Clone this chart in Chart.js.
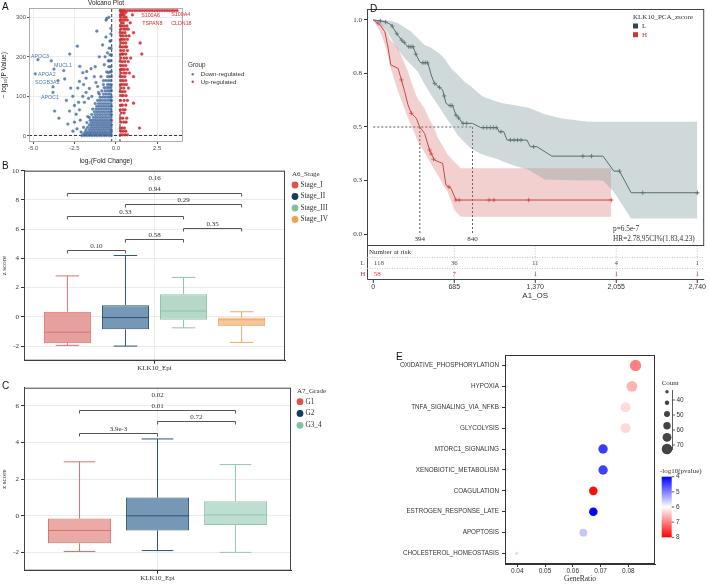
<!DOCTYPE html>
<html><head><meta charset="utf-8">
<script src="https://cdn.jsdelivr.net/npm/chart.js@4.4.1/dist/chart.umd.min.js"></script>
<style>
html,body{margin:0;padding:0;background:#fff}
#wrap{position:relative;width:709px;height:584px;overflow:hidden;background:#fff}
canvas{position:absolute}
.tag{position:absolute;font:10px "Liberation Sans",Arial,sans-serif;color:#111}
</style></head><body>
<div id="wrap">
<canvas id="cA" width="260" height="165" style="left:0;top:0"></canvas>
<canvas id="cB" width="340" height="215" style="left:0;top:160px"></canvas>
<canvas id="cC" width="340" height="209" style="left:0;top:375px"></canvas>
<canvas id="cD" width="359" height="305" style="left:350px;top:0"></canvas>
<canvas id="cE" width="349" height="244" style="left:360px;top:340px"></canvas>
<div class="tag" style="left:2px;top:1px">A</div>
<div class="tag" style="left:2px;top:160px">B</div>
<div class="tag" style="left:2px;top:380px">C</div>
<div class="tag" style="left:370px;top:3px">D</div>
<div class="tag" style="left:396px;top:351px">E</div>
</div>
<script>
// ================= DATA =================
// Panel A: volcano
const volcanoTitle = 'Volcano Plot';
const groupNames = ['Down-regulated', 'Up-regulated'];
const fcCut = [-0.25, 0.25];
const pCut = 1.3;
const downOutliers = [[-4.71,193],[-4.87,157],[-3.9,190],[-3.74,169],[-3.15,165],[-3.09,144],[-3.5,140],[-3.8,124],[-3.8,110],[-2.73,121],[-2.99,90],[-3.7,63],[-3.44,45],[-2.33,227],[-2.79,207],[-2.18,176],[-2.0,160],[-1.76,163],[-1.8,146],[-1.5,170],[-2.2,138],[-2.3,121],[-2.0,100],[-2.5,77],[-2.8,63],[-2.2,66],[-1.7,49],[-1.15,265],[-0.59,293],[-0.55,297],[-0.42,300],[-2.6,100],[-2.4,55],[-2.15,40],[-1.9,85],[-1.6,120],[-1.3,150],[-1.2,135],[-1.45,100],[-1.65,95],[-1.0,200],[-0.8,230],[-0.7,180],[-0.9,150],[-1.1,125],[-0.6,250],[-0.5,210],[-0.45,160],[-0.35,240],[-0.3,272],[-0.4,190],[-1.8,110],[-2.5,35],[-2.9,30],[-1.25,175],[-1.05,110],[-0.75,140],[-0.65,200],[-2.35,18],[-2.6,12],[-2.25,85],[-1.95,130]];
const downRows = [
 [1,[-2.05,-1.9,-1.75,-1.6,-1.45,-1.3,-1.15,-1.0,-0.85,-0.7,-0.55,-0.4,-0.28]],
 [5,[-1.95,-1.8,-1.65,-1.5,-1.35,-1.2,-1.05,-0.9,-0.75,-0.6,-0.45,-0.3]],
 [10,[-2.1,-1.85,-1.7,-1.55,-1.4,-1.25,-1.1,-0.95,-0.8,-0.65,-0.5,-0.35,-0.27]],
 [16,[-1.8,-1.6,-1.45,-1.3,-1.15,-1.0,-0.85,-0.7,-0.55,-0.4,-0.28]],
 [22,[-1.95,-1.7,-1.5,-1.35,-1.2,-1.05,-0.9,-0.75,-0.6,-0.45,-0.3]],
 [28,[-1.6,-1.45,-1.3,-1.15,-1.0,-0.85,-0.7,-0.55,-0.4,-0.27]],
 [34,[-1.75,-1.5,-1.35,-1.2,-1.05,-0.9,-0.75,-0.6,-0.45,-0.3]],
 [40,[-1.55,-1.4,-1.25,-1.1,-0.95,-0.8,-0.65,-0.5,-0.35,-0.27]],
 [47,[-1.6,-1.35,-1.2,-1.05,-0.9,-0.75,-0.6,-0.45,-0.3]],
 [54,[-1.45,-1.25,-1.1,-0.95,-0.8,-0.65,-0.5,-0.35,-0.27]],
 [61,[-1.3,-1.15,-1.0,-0.85,-0.7,-0.55,-0.4,-0.28]],
 [68,[-1.4,-1.2,-1.05,-0.9,-0.75,-0.6,-0.45,-0.3]],
 [75,[-1.15,-1.0,-0.85,-0.7,-0.55,-0.4,-0.27]],
 [82,[-1.25,-1.05,-0.9,-0.75,-0.6,-0.45,-0.3]],
 [90,[-1.1,-0.95,-0.8,-0.65,-0.5,-0.35,-0.27]],
 [98,[-0.95,-0.8,-0.65,-0.5,-0.38,-0.28]],
 [106,[-1.0,-0.75,-0.6,-0.45,-0.32]],
 [114,[-0.85,-0.65,-0.5,-0.38,-0.27]],
 [122,[-0.7,-0.55,-0.42,-0.3]],
 [130,[-0.75,-0.5,-0.38,-0.28]],
 [140,[-0.6,-0.45,-0.32]],
 [150,[-0.5,-0.38,-0.27]],
 [162,[-0.55,-0.35,-0.28]],
 [175,[-0.42,-0.3]],
 [190,[-0.45,-0.3]],
 [205,[-0.35,-0.27]],
 [222,[-0.4,-0.29]],
 [240,[-0.33]],
 [258,[-0.3]]
];
const upRows = [
 [3,[0.28,0.4,0.55,0.7]],[12,[0.3,0.45,0.6]],[20,[0.27,0.38,0.52,1.43]],[35,[0.3,0.48,0.62]],
 [45,[0.28,0.42,0.66]],[58,[0.33,0.5]],[66,[0.27,0.44,0.56]],[78,[0.3,0.4,0.6]],[83,[1.07]],
 [90,[0.28,0.5,0.7]],[102,[0.35,0.45,0.62]],[112,[0.27,0.4,0.55]],[121,[0.3,0.48,0.76]],
 [130,[0.28,0.38,0.52,0.65]],[140,[0.33,0.45,0.6]],[150,[0.27,0.4,0.55,1.07]],[159,[0.3,0.48,0.62,0.82]],
 [168,[0.28,0.38,0.52,0.7]],[178,[0.32,0.45,0.6]],[188,[0.27,0.4,0.55,0.75]],[197,[0.3,0.5,0.65,0.9]],
 [207,[0.28,0.38,0.45,0.6,1.57]],[216,[0.33,0.48,0.7]],[225,[0.27,0.4,0.55,0.65]],[235,[0.3,0.45,0.6,1.47]],
 [244,[0.28,0.38,0.52,0.7]],[253,[0.32,0.45,0.62,0.8]],[261,[0.27,0.4,0.55,1.07]],[270,[0.3,0.48,0.6,0.75]],
 [278,[0.28,0.38,0.52,0.67]],[286,[0.33,0.45,0.87]],[293,[0.27,0.4,0.55,0.7]],[300,[0.3,0.48,0.62]],
 [306,[0.28,0.38,0.5,1.0]],[312,[0.32,0.45,0.6]],
 [317,[0.27,0.35,0.45,0.55,0.7,0.85,1.0,1.15,1.3,1.45,1.6,1.75,1.9,2.05,2.2,2.35,2.5,2.65,2.8,2.95,3.1,3.25,3.4,3.55,3.7]]
];
const geneLabels = [
 ['APOC3',-5.13,202,0],['MUCL1',-3.74,179,0],['APOA2',-4.71,155,0],['SCGB3A1',-4.89,136,0],['APOC1',-4.53,96,0],
 ['S100A6',1.53,305,1],['S100A4',3.35,307,1],['TSPAN8',1.59,284,1],['CLDN18',3.35,284,1]
];

// Panel B: stage boxplots
const xCategory = ['KLK10_Epi'];
const stageNames = ['Stage_I','Stage_II','Stage_III','Stage_IV'];
const stageMin = [-1.95,-2.0,-0.75,-1.75];
const stageQ1 = [-1.8,-0.85,-0.2,-0.65];
const stageMedian = [-1.05,-0.05,0.4,-0.2];
const stageQ3 = [0.35,0.8,1.55,-0.05];
const stageMax = [2.8,4.2,2.7,0.35];
const stagePairs = [[0,1],[1,2],[2,3],[0,2],[1,3],[0,3]];
const stagePLevels = [4.55,5.35,6.1,6.9,7.75,8.5];
const stagePLabels = ['0.10','0.58','0.35','0.33','0.29','0.94'];
const stageOverall = ['0.16', 9.25];
const stageLegendTitle = 'A6_Stage';
const stageYTicks = [-2,0,2,4,6,8,10];

// Panel C: grade boxplots
const gradeNames = ['G1','G2','G3_4'];
const gradeMin = [-1.95,-1.9,-2.0];
const gradeQ1 = [-1.5,-0.8,-0.5];
const gradeMedian = [-0.8,0.0,0.05];
const gradeQ3 = [-0.15,1.0,0.8];
const gradeMax = [2.95,4.2,2.8];
const gradePairs = [[0,1],[1,2],[0,2]];
const gradePLevels = [4.55,5.2,5.8];
const gradePLabels = ['3.9e-3','0.72','0.01'];
const gradeOverall = ['0.02', 6.35];
const gradeLegendTitle = 'A7_Grade';
const gradeYTicks = [-2,0,2,4,6];

// Panel D: Kaplan-Meier
const kmGroups = ['L','H'];
const kmLegendTitle = 'KLK10_PCA_zscore';
const lDays = [0,98,154,196,238,280,294,336,364,392,406,462,490,517,587,615,643,671,699,727,755,839,909,1048,1063,1104,1132,1300,1328,1384,1510,1943,2035,2083,2181,2740];
const lSurv = [1.0,0.992,0.977,0.938,0.907,0.883,0.875,0.875,0.836,0.805,0.80,0.80,0.743,0.704,0.673,0.611,0.60,0.60,0.556,0.540,0.517,0.517,0.497,0.497,0.478,0.478,0.439,0.439,0.408,0.408,0.364,0.364,0.294,0.294,0.193,0.193];
const hDays = [0,56,98,126,148,210,238,266,294,322,364,392,434,476,517,587,615,658,699,2013];
const hSurv = [1.0,0.977,0.945,0.868,0.79,0.774,0.72,0.665,0.603,0.564,0.541,0.501,0.47,0.393,0.346,0.33,0.229,0.213,0.159,0.159];
const lBandDays = [0,98,154,182,210,266,322,377,434,490,574,601,658,713,769,825,909,937,1048,1104,1188,1314,1450,1594,1818,1943,2030,2090,2181,2740];
const lBandUpper = [1.0,0.998,0.995,0.99,0.985,0.965,0.945,0.915,0.883,0.87,0.836,0.82,0.774,0.745,0.712,0.69,0.65,0.64,0.618,0.61,0.603,0.59,0.56,0.54,0.525,0.525,0.525,0.525,0.525,0.525];
const lBandLower = [1.0,0.961,0.91,0.883,0.86,0.821,0.79,0.758,0.70,0.65,0.58,0.556,0.51,0.463,0.43,0.40,0.375,0.369,0.35,0.338,0.32,0.30,0.255,0.252,0.25,0.25,0.2,0.15,0.073,0.073];
const hBandDays = [0,42,70,98,126,140,210,294,350,378,434,462,517,545,601,629,685,699,741,2013];
const hBandUpper = [1.0,0.995,0.99,0.96,0.93,0.91,0.868,0.758,0.665,0.63,0.587,0.55,0.494,0.45,0.40,0.37,0.338,0.33,0.307,0.307];
const hBandLower = [1.0,0.961,0.93,0.883,0.83,0.79,0.665,0.541,0.47,0.431,0.38,0.354,0.30,0.276,0.22,0.198,0.115,0.104,0.081,0.081];
const lCensor = [[60,0.995],[104,0.99],[160,0.971],[200,0.935],[240,0.906],[262,0.895],[300,0.875],[318,0.875],[336,0.875],[360,0.84],[420,0.80],[440,0.80],[458,0.80],[520,0.703],[560,0.685],[600,0.645],[650,0.60],[666,0.60],[700,0.555],[722,0.542],[760,0.517],[790,0.517],[930,0.497],[960,0.497],[990,0.497],[1015,0.497],[1040,0.497],[1080,0.478],[1160,0.439],[1190,0.439],[1220,0.439],[1250,0.439],[1356,0.408],[1773,0.364],[1846,0.364],[2083,0.294],[2279,0.193],[2740,0.193]];
const hCensor = [[40,0.985],[238,0.72],[322,0.564],[476,0.393],[490,0.375],[510,0.35],[640,0.22],[699,0.159],[727,0.159],[979,0.159],[1020,0.159],[1314,0.159],[2013,0.159]];
const medianDays = [394, 840];
const riskTimes = [0,685,1370,2055,2740];
const riskTickLabels = ['0','685','1,370','2,055','2,740'];
const riskL = [118,36,11,4,1];
const riskH = [58,7,1,1,1];
const kmP = 'p=6.5e-7';
const kmHR = 'HR=2.78,95CI%(1.83,4.23)';
const kmXTitle = 'A1_OS';
const kmRiskTitle = 'Number at risk';

// Panel E: enrichment dot plot
const pathways = ['OXIDATIVE_PHOSPHORYLATION','HYPOXIA','TNFA_SIGNALING_VIA_NFKB','GLYCOLYSIS','MTORC1_SIGNALING','XENOBIOTIC_METABOLISM','COAGULATION','ESTROGEN_RESPONSE_LATE','APOPTOSIS','CHOLESTEROL_HOMEOSTASIS'];
const geneRatio = [0.0826,0.0813,0.0790,0.0790,0.0709,0.0709,0.0674,0.0674,0.0638,0.0398];
const geneCount = [74,72,68,68,65,65,61,61,57,35];
const negLogP = [7.0,6.6,6.3,6.3,4.45,4.5,7.9,4.05,5.55,6.3];
const countLegendCircles = [35,40,48,55,62,71];
const countLegendLabels = [40,50,60,70];
const pLegendTicks = [4,5,6,7,8];

// ================= STYLE / HELPERS =================
const SANS = '"Liberation Sans", Arial, sans-serif';
const SERIF = '"Liberation Serif", "Times New Roman", serif';
Chart.defaults.animation = false;
Chart.defaults.responsive = false;
Chart.defaults.maintainAspectRatio = false;
Chart.defaults.devicePixelRatio = 1;
Chart.defaults.plugins.legend.display = false;
Chart.defaults.plugins.tooltip.enabled = false;
Chart.defaults.font.family = SANS;
Chart.defaults.color = '#333';

function txt(c, s, x, y, font, color, align, base) {
  c.save(); c.font = font; c.fillStyle = color; c.textAlign = align || 'left';
  c.textBaseline = base || 'middle'; c.fillText(s, x, y); c.restore();
}
function seg(c, x1, y1, x2, y2, color, w, dash) {
  c.save(); c.strokeStyle = color; c.lineWidth = w || 1; c.setLineDash(dash || []);
  c.beginPath(); c.moveTo(x1, y1); c.lineTo(x2, y2); c.stroke(); c.restore();
}
const zip = (xs, ys) => xs.map((x, i) => ({x, y: ys[i]}));

// ================= PANEL A =================
const downPts = downOutliers.map(([x, y]) => ({x, y})).concat(downRows.flatMap(([y, xs]) => xs.map(x => ({x, y}))));
const upPts = upRows.flatMap(([y, xs]) => xs.map(x => ({x, y})));
const AX = [-5.25, 4.06], AY = [-15.2, 323.5];
const dashA = {type: 'line', borderColor: '#222', borderWidth: 0.9, borderDash: [3, 2], pointRadius: 0, fill: false};
new Chart(document.getElementById('cA'), {
  type: 'scatter',
  data: {datasets: [
    {data: downPts, pointRadius: 1.4, backgroundColor: 'rgba(52,92,145,0.75)', borderColor: 'rgba(95,135,185,0.9)', borderWidth: 0.4},
    {data: upPts, pointRadius: 1.4, backgroundColor: 'rgba(205,28,35,0.85)', borderColor: 'rgba(215,60,60,0.9)', borderWidth: 0.4},
    Object.assign({data: [{x: fcCut[0], y: AY[0]}, {x: fcCut[0], y: AY[1]}]}, dashA),
    Object.assign({data: [{x: fcCut[1], y: AY[0]}, {x: fcCut[1], y: AY[1]}]}, dashA),
    Object.assign({data: [{x: AX[0], y: pCut}, {x: AX[1], y: pCut}]}, dashA)
  ]},
  options: {
    layout: {padding: {left: 0, top: 8, right: 77, bottom: 0}},
    scales: {
      x: {type: 'linear', min: AX[0], max: AX[1], afterFit: s => { s.height = 23; },
        ticks: {stepSize: 2.5, includeBounds: false, callback: v => v.toFixed(1), font: {size: 6, family: SANS}, color: '#555', padding: 1},
        grid: {color: '#ececec', tickLength: 2, tickColor: '#555'}, border: {display: false},
        title: {display: true, text: 'log\u2082(Fold Change)', font: {size: 6.5, family: SANS}, color: '#222', padding: {top: 1, bottom: 0}}},
      y: {min: AY[0], max: AY[1], afterFit: s => { s.width = 29; },
        ticks: {stepSize: 100, includeBounds: false, font: {size: 6, family: SANS}, color: '#555', padding: 1},
        grid: {color: '#ececec', tickLength: 2, tickColor: '#555'}, border: {display: false},
        title: {display: true, text: '\u2212 log\u2081\u2080(P Value)', font: {size: 6.5, family: SANS}, color: '#222', padding: {top: 0, bottom: 1}}}
    }
  },
  plugins: [{id: 'pA', afterDraw(chart) {
    const c = chart.ctx, a = chart.chartArea, sx = chart.scales.x, sy = chart.scales.y;
    c.save(); c.strokeStyle = '#9a9a9a'; c.lineWidth = 0.8; c.strokeRect(a.left + 0.5, a.top + 0.5, a.width - 1, a.height - 1); c.restore();
    txt(c, volcanoTitle, (a.left + a.right) / 2, 3.5, '6.5px ' + SANS, '#222', 'center');
    geneLabels.forEach(g => txt(c, g[0], sx.getPixelForValue(g[1]), sy.getPixelForValue(g[2]), '5.3px ' + SANS, g[3] ? '#d03030' : '#4d79ac', 'left'));
    txt(c, 'Group', 188, 65, '6.3px ' + SANS, '#333', 'left');
    const gc = ['rgba(52,92,145,0.8)', 'rgba(205,28,35,0.85)'];
    groupNames.forEach((n, i) => {
      const y = 74.3 + i * 7.5;
      c.save(); c.fillStyle = gc[i]; c.beginPath(); c.arc(192.7, y, 1.2, 0, Math.PI * 2); c.fill(); c.restore();
      txt(c, n, 200.7, y, '6.2px ' + SANS, '#333', 'left');
    });
  }}]
});

// ================= PANEL B & C (boxplots) =================
function boxChart(id, names, mins, q1s, meds, q3s, maxs, pairs, levels, plabels, overall, legTitle, yTicks, o) {
  const datasets = names.map((n, i) => ({
    label: n, data: [[q1s[i], q3s[i]]], backgroundColor: o.fill[i], borderColor: o.line[i],
    borderWidth: 1, borderSkipped: false, categoryPercentage: o.cat, barPercentage: o.bar
  }));
  new Chart(document.getElementById(id), {
    type: 'bar',
    data: {labels: xCategory, datasets},
    options: {
      layout: {padding: {left: 0, top: o.top, right: o.right, bottom: 0}},
      scales: {
        x: {afterFit: s => { s.height = o.xh; },
          grid: {offset: false, color: '#ebebeb', tickLength: 3, tickColor: '#333'}, border: {color: '#333'},
          ticks: {font: {family: SERIF, size: 7}, color: '#333', padding: 0}},
        y: {min: o.ymin, max: o.ymax, afterFit: s => { s.width = 24; },
          afterBuildTicks: s => { s.ticks = yTicks.map(v => ({value: v})); },
          ticks: {font: {family: SERIF, size: 7}, color: '#333', padding: 2},
          grid: {color: '#ebebeb', tickLength: 3, tickColor: '#333'}, border: {color: '#333'},
          title: {display: true, text: 'z score', font: {family: SERIF, size: 7}, color: '#333', padding: {top: 0, bottom: 2}}}
      }
    },
    plugins: [{id: 'box' + id, afterDraw(chart) {
      const c = chart.ctx, a = chart.chartArea, y = chart.scales.y;
      const xs = [];
      names.forEach((n, i) => {
        const el = chart.getDatasetMeta(i).data[0];
        const cx = el.x, w = el.width; xs.push(cx);
        const col = o.line[i];
        seg(c, cx, y.getPixelForValue(q3s[i]), cx, y.getPixelForValue(maxs[i]), col, 1);
        seg(c, cx, y.getPixelForValue(q1s[i]), cx, y.getPixelForValue(mins[i]), col, 1);
        seg(c, cx - w / 4, y.getPixelForValue(maxs[i]), cx + w / 4, y.getPixelForValue(maxs[i]), col, 1);
        seg(c, cx - w / 4, y.getPixelForValue(mins[i]), cx + w / 4, y.getPixelForValue(mins[i]), col, 1);
        seg(c, cx - w / 2, y.getPixelForValue(meds[i]), cx + w / 2, y.getPixelForValue(meds[i]), col, 1);
      });
      pairs.forEach((p, k) => {
        const x1 = xs[p[0]], x2 = xs[p[1]], yy = Math.round(y.getPixelForValue(levels[k])) + 0.5;
        c.save(); c.strokeStyle = '#555'; c.lineWidth = 1; c.beginPath();
        c.moveTo(x1, yy + 3); c.lineTo(x1, yy); c.lineTo(x2, yy); c.lineTo(x2, yy + 3); c.stroke(); c.restore();
        txt(c, plabels[k], (x1 + x2) / 2, yy - 0.5, '7px ' + SERIF, '#333', 'center', 'bottom');
      });
      txt(c, overall[0], (xs[0] + xs[xs.length - 1]) / 2, y.getPixelForValue(overall[1]) - 0.5, '7px ' + SERIF, '#333', 'center', 'bottom');
      c.save(); c.strokeStyle = '#444'; c.lineWidth = 1; c.strokeRect(a.left + 0.5, a.top + 0.5, a.width - 1, a.height - 1); c.restore();
      txt(c, legTitle, o.lx, o.ly, '7px ' + SERIF, '#333', 'left');
      names.forEach((n, i) => {
        const yy = o.ly + 11 + i * o.lstep;
        c.save(); c.fillStyle = o.dot[i]; c.beginPath(); c.arc(o.lx + 3, yy, 3.4, 0, Math.PI * 2); c.fill(); c.restore();
        txt(c, n, o.lx + 8.5, yy, '7.3px ' + SERIF, '#333', 'left');
      });
    }}]
  });
}
boxChart('cB', stageNames, stageMin, stageQ1, stageMedian, stageQ3, stageMax, stagePairs, stagePLevels, stagePLabels, stageOverall, stageLegendTitle, stageYTicks, {
  fill: ['rgba(226,143,140,0.85)', 'rgba(112,145,178,0.95)', 'rgba(178,214,198,0.95)', 'rgba(244,196,146,0.95)'],
  line: ['#d8716e', '#2d5478', '#8dc3aa', '#eeaa66'],
  dot: ['#d9534f', '#173c63', '#82c0a2', '#f0a24e'],
  cat: 0.89, bar: 0.81, top: 10.7, right: 55, xh: 14.3, ymin: -3, ymax: 10, lx: 292, ly: 14, lstep: 11.5
});
boxChart('cC', gradeNames, gradeMin, gradeQ1, gradeMedian, gradeQ3, gradeMax, gradePairs, gradePLevels, gradePLabels, gradeOverall, gradeLegendTitle, gradeYTicks, {
  fill: ['rgba(230,155,150,0.85)', 'rgba(112,145,178,0.95)', 'rgba(185,220,205,0.95)'],
  line: ['#d8716e', '#2d5478', '#93c8b0'],
  dot: ['#d9534f', '#173c63', '#82c0a2'],
  cat: 0.876, bar: 0.81, top: 12.7, right: 49, xh: 13.3, ymin: -3, ymax: 7, lx: 297, ly: 15.7, lstep: 11.8
});

// ================= PANEL D (KM) =================
const LC = '#34464f', HC = '#c23b3b';
const noLine = 'rgba(0,0,0,0)';
const medDash = {borderColor: '#333', borderDash: [2, 2], borderWidth: 0.8, pointRadius: 0, fill: false};
new Chart(document.getElementById('cD'), {
  type: 'line',
  data: {datasets: [
    {data: zip(lBandDays, lBandUpper), fill: '+1', backgroundColor: 'rgba(140,165,165,0.42)', borderColor: noLine, borderWidth: 0, pointRadius: 0},
    {data: zip(lBandDays, lBandLower), fill: false, borderColor: noLine, borderWidth: 0, pointRadius: 0},
    {data: zip(hBandDays, hBandUpper), fill: '+1', backgroundColor: 'rgba(215,100,100,0.3)', borderColor: noLine, borderWidth: 0, pointRadius: 0},
    {data: zip(hBandDays, hBandLower), fill: false, borderColor: noLine, borderWidth: 0, pointRadius: 0},
    {data: zip(lDays, lSurv), borderColor: LC, borderWidth: 1, pointRadius: 0, fill: false},
    {data: zip(hDays, hSurv), borderColor: HC, borderWidth: 1, pointRadius: 0, fill: false},
    {data: lCensor.map(([x, y]) => ({x, y})), showLine: false, pointStyle: 'cross', pointRadius: 2.2, borderColor: LC, backgroundColor: LC, borderWidth: 0.8},
    {data: hCensor.map(([x, y]) => ({x, y})), showLine: false, pointStyle: 'cross', pointRadius: 2.2, borderColor: HC, backgroundColor: HC, borderWidth: 0.8},
    Object.assign({data: [{x: 0, y: 0.5}, {x: medianDays[1], y: 0.5}]}, medDash),
    Object.assign({data: [{x: medianDays[0], y: 0.5}, {x: medianDays[0], y: 0.005}]}, medDash),
    Object.assign({data: [{x: medianDays[1], y: 0.5}, {x: medianDays[1], y: 0.005}]}, medDash)
  ]},
  options: {
    layout: {padding: {left: 0, top: 9, right: 2, bottom: 60}},
    elements: {line: {tension: 0}},
    scales: {
      x: {type: 'linear', display: false, min: -53, max: 2799},
      y: {min: -0.051, max: 1.051, afterFit: s => { s.width = 17; },
        ticks: {stepSize: 0.25, includeBounds: false, callback: v => v.toFixed(1), font: {family: SERIF, size: 7}, color: '#333', padding: 2},
        grid: {drawOnChartArea: false, tickLength: 3, color: '#333'}, border: {color: '#333'}}
    }
  },
  plugins: [{id: 'pD', afterDraw(chart) {
    const c = chart.ctx, a = chart.chartArea, sx = chart.scales.x, sy = chart.scales.y;
    c.save(); c.strokeStyle = '#444'; c.lineWidth = 1;
    c.strokeRect(a.left + 0.5, a.top + 0.5, a.width - 1, a.height);
    c.beginPath(); c.moveTo(a.left + 0.5, a.bottom); c.lineTo(a.left + 0.5, 279.5); c.lineTo(a.right, 279.5); c.stroke();
    c.restore();
    medianDays.forEach(d => txt(c, String(d), sx.getPixelForValue(d), 239.5, '7px ' + SERIF, '#333', 'center'));
    txt(c, kmP, 263, 229.5, '7.3px ' + SERIF, '#333', 'left');
    txt(c, kmHR, 263, 239.5, '7.3px ' + SERIF, '#333', 'left');
    txt(c, kmLegendTitle, 283, 17, '7px ' + SERIF, '#333', 'left');
    [LC, HC].forEach((col, i) => {
      c.save(); c.fillStyle = col; c.fillRect(283, 23.5 + i * 8.7, 5, 5); c.restore();
      txt(c, kmGroups[i], 292, 26 + i * 8.7, '7px ' + SERIF, i ? HC : '#333', 'left');
    });
    seg(c, a.left, 257.5, a.right, 257.5, '#bbb', 0.8, [1, 1.5]);
    seg(c, a.left, 268.5, a.right, 268.5, '#bbb', 0.8, [1, 1.5]);
    riskTimes.forEach((t, i) => {
      const x = sx.getPixelForValue(t);
      if (i > 0) seg(c, x, a.bottom + 1, x, 279, '#bbb', 0.8, [1, 1.5]);
      seg(c, x, 280, x, 283, '#333', 1);
      txt(c, riskTickLabels[i], x, 287, '7px ' + SANS, '#333', 'center');
      const al = i === 0 ? 'left' : 'center', xx = i === 0 ? x + 0.5 : x;
      txt(c, String(riskL[i]), xx, 263.3, '7px ' + SERIF, '#555', al);
      txt(c, String(riskH[i]), xx, 274, '7px ' + SERIF, HC, al);
    });
    txt(c, kmRiskTitle, a.left + 2, 252.5, '7px ' + SERIF, '#333', 'left');
    txt(c, kmGroups[0], 12.7, 263.3, '7px ' + SERIF, '#555', 'center');
    txt(c, kmGroups[1], 12.7, 274, '7px ' + SERIF, HC, 'center');
    txt(c, kmXTitle, sx.getPixelForValue(1370), 295.5, '8px ' + SANS, '#333', 'center');
  }}]
});

// ================= PANEL E (dot plot) =================
function pColor(v) {
  const t = Math.max(0, Math.min(1, (v - 4) / 4));
  if (t < 0.5) { const f = t / 0.5; return `rgb(${Math.round(255 * f)},${Math.round(255 * f)},255)`; }
  const f = (t - 0.5) / 0.5; return `rgb(255,${Math.round(255 * (1 - f))},${Math.round(255 * (1 - f))})`;
}
const rOf = n => 1.7 + (n - 35) * 0.1;
new Chart(document.getElementById('cE'), {
  type: 'scatter',
  data: {datasets: [{
    data: pathways.map((p, i) => ({x: geneRatio[i], y: p})),
    pointRadius: geneCount.map(rOf), backgroundColor: negLogP.map(pColor), borderWidth: 0
  }]},
  options: {
    layout: {padding: {left: 0, top: 15, right: 54, bottom: 0}},
    scales: {
      x: {type: 'linear', min: 0.0356, max: 0.0896, afterFit: s => { s.height = 20; },
        ticks: {stepSize: 0.01, includeBounds: false, callback: v => v.toFixed(2), font: {family: SANS, size: 6.5}, color: '#333', padding: 0},
        grid: {drawOnChartArea: false, tickLength: 3, color: '#333'}, border: {color: '#333'},
        title: {display: true, text: 'GeneRatio', font: {family: SERIF, size: 7.5}, color: '#333', padding: {top: 1, bottom: 0}}},
      y: {type: 'category', labels: pathways, offset: true, afterFit: s => { s.width = 145; },
        ticks: {font: {family: SANS, size: 6.3}, color: '#333', padding: 3},
        grid: {drawOnChartArea: false, tickLength: 3, color: '#333'}, border: {color: '#333'}}
    }
  },
  plugins: [{id: 'pE', afterDraw(chart) {
    const c = chart.ctx, a = chart.chartArea;
    c.save(); c.strokeStyle = '#333'; c.lineWidth = 1; c.strokeRect(a.left + 0.5, a.top + 0.5, a.width - 1, a.height - 1); c.restore();
    txt(c, 'Count', 301.7, 43.3, '7px ' + SERIF, '#333', 'left');
    const cy = [51.7, 62.7, 74, 85.7, 97.3, 109];
    countLegendCircles.forEach((n, i) => {
      c.save(); c.fillStyle = '#444'; c.beginPath(); c.arc(307, cy[i], rOf(n), 0, Math.PI * 2); c.fill(); c.restore();
    });
    seg(c, 312.5, 50, 312.5, 110, '#333', 0.8);
    countLegendLabels.forEach((n, i) => {
      const yy = 60 + i * 15;
      seg(c, 312.5, yy, 315, yy, '#333', 0.8);
      txt(c, String(n), 316.5, yy, '6.5px ' + SANS, '#333', 'left');
    });
    const top = 136.7, bot = 197.3, x0 = 301.7, x1 = 311.7;
    const g = c.createLinearGradient(0, top, 0, bot);
    for (let k = 0; k <= 8; k++) g.addColorStop(k / 8, pColor(4 + k * 0.5));
    c.save(); c.fillStyle = g; c.fillRect(x0, top, x1 - x0, bot - top); c.restore();
    txt(c, '-log10(pvalue)', 300, 131, '7px ' + SERIF, '#333', 'left');
    pLegendTicks.forEach(v => {
      const yy = top + (v - 4) / 4 * (bot - top);
      seg(c, x1, yy, x1 + 2.5, yy, '#333', 0.8);
      txt(c, String(v), 316, yy, '6.5px ' + SANS, '#333', 'left');
    });
  }}]
});
</script>
</body></html>
